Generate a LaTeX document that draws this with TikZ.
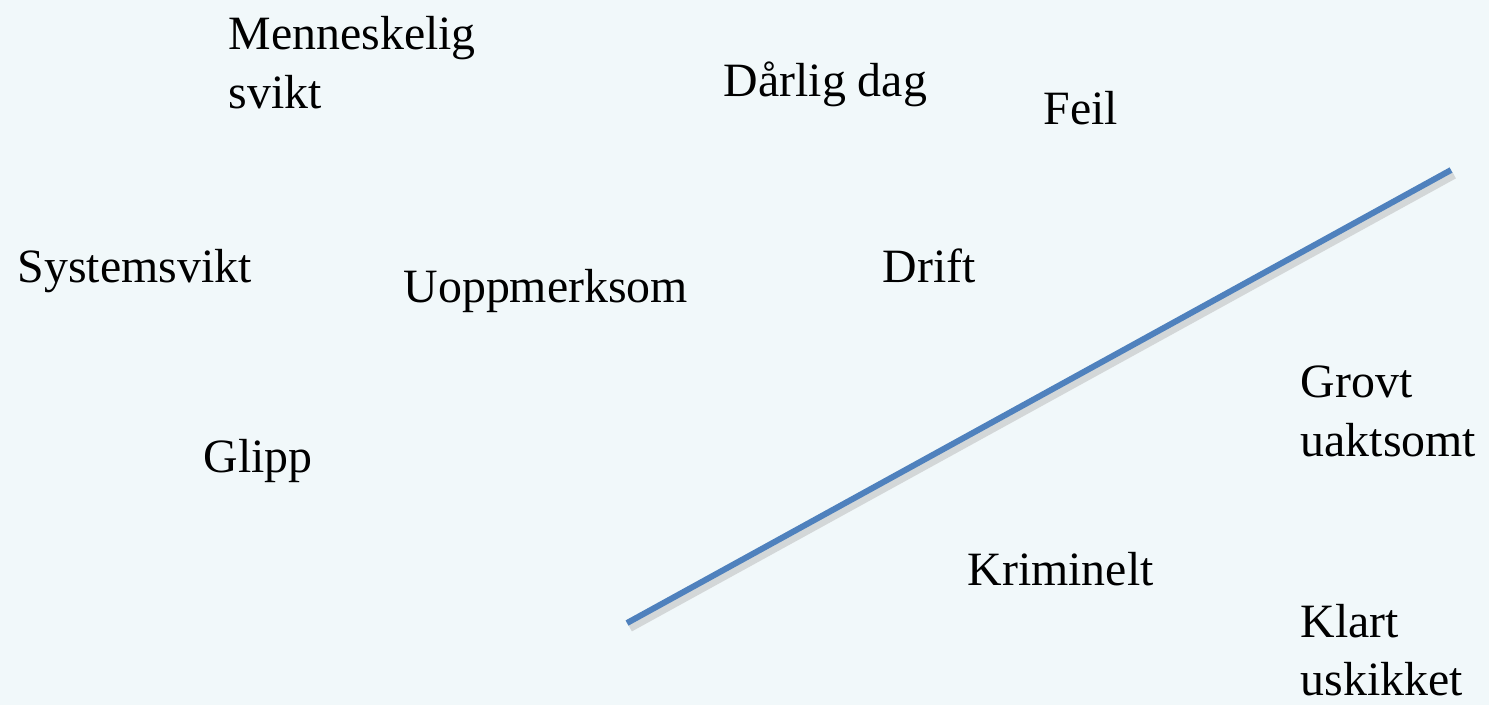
\documentclass[tikz,border=0pt]{standalone}
\usepackage{fontspec}
\setmainfont{Liberation Serif}
\usepackage{tikz}
\usetikzlibrary{positioning}
\definecolor{Paper}{HTML}{F1F8FA}
\definecolor{Line}{HTML}{4F81BD}
\tikzset{word/.style={anchor=base west,inner sep=0pt,align=left,font=\fontsize{13.6}{16.5}\selectfont}}

\begin{document}
\begin{tikzpicture}[x=0.01cm,y=-0.01cm]
  \fill[Paper] (0,0) rectangle (1489,705);
  \useasboundingbox (0,0) rectangle (1489,705);
  % labels (two-line ones sit on their last baseline)
  \node[word] (menneskelig) at (228,108) {Menneskelig\\svikt};
  \node[word] (darlig) at (723,96) {Dårlig dag};
  \node[word] (feil) at (1043,124) {Feil};
  \node[word] (system) at (17,282) {Systemsvikt};
  \node[word] (uopp) at (403,302) {Uoppmerksom};
  \node[word] (drift) at (882,282) {Drift};
  \node[word] (grovt) at (1300,456) {Grovt\\uaktsomt};
  \node[word] (glipp) at (203,472) {Glipp};
  \node[word] (krim) at (967,585) {Kriminelt};
  \node[word] (klart) at (1300,695) {Klart\\uskikket};
  % dividing line
  \coordinate (lo) at (627,623);
  \coordinate (hi) at (1451,170);
  \draw[black!35,opacity=0.4,line width=2.2pt] ([shift={(3,5)}]lo) -- ([shift={(3,5)}]hi);
  \draw[Line,line width=1.7pt] (lo) -- (hi);
\end{tikzpicture}
\end{document}
